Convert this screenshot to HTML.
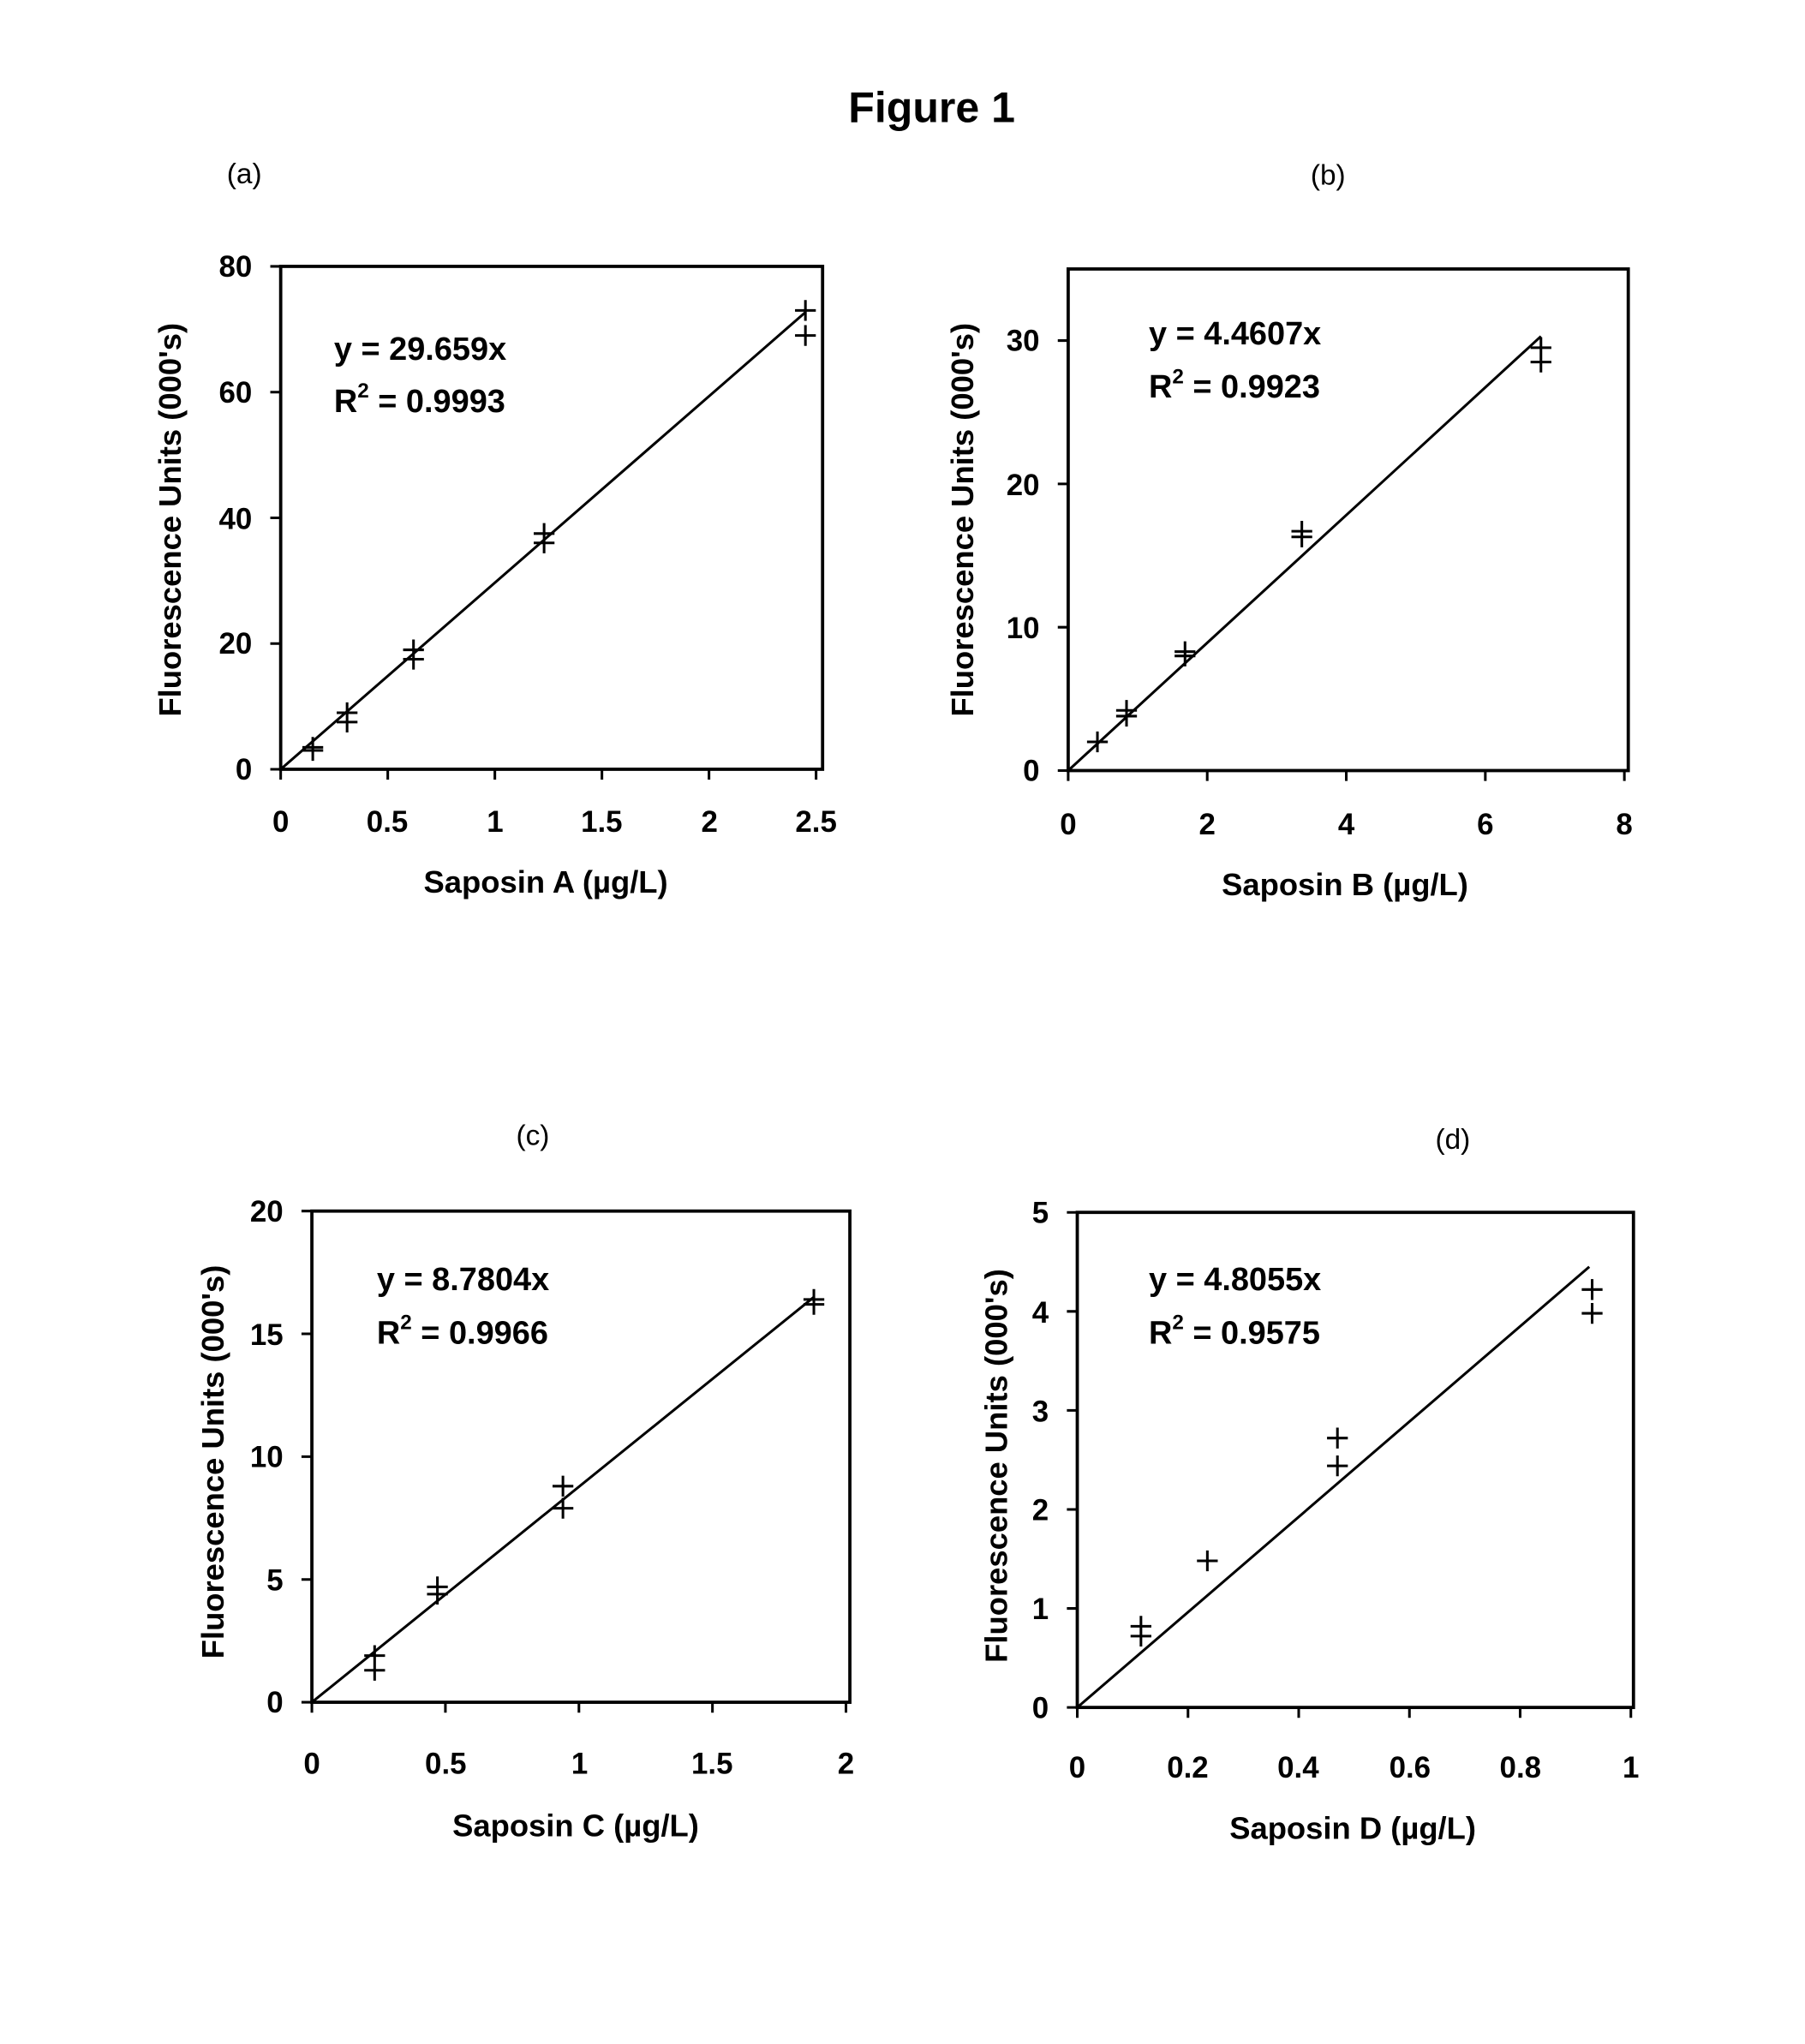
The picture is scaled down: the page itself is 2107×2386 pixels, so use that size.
<!DOCTYPE html>
<html><head><meta charset="utf-8"><style>html,body{margin:0;padding:0;background:#fff}svg{display:block}</style></head>
<body>
<svg width="2107" height="2386" viewBox="0 0 1389 1573" preserveAspectRatio="none" xmlns="http://www.w3.org/2000/svg" font-family="Liberation Sans, Arial, sans-serif">
<rect width="1389" height="1573" fill="#fff"/>
<text x="717" y="94" font-size="33" font-weight="bold" text-anchor="middle">Figure 1</text>
<g font-size="22" text-anchor="middle">
<text x="188" y="141">(a)</text><text x="1022" y="142">(b)</text>
<text x="410" y="881">(c)</text><text x="1118" y="884">(d)</text>
</g>
<g stroke="#000" fill="none" stroke-width="2">
<rect x="216" y="205" width="417" height="387" stroke-width="2.5"/>
<path d="M208 592H216M208 495.25H216M208 398.5H216M208 301.75H216M208 205H216M216 592V600M298.4 592V600M380.8 592V600M463.2 592V600M545.6 592V600M628 592V600"/>
<path d="M216 592L619.8 240.3"/>
<path d="M232.7 575.1h16M240.7 567.1v16M232.7 577.5h16M240.7 569.5v16M259.1 548.5h16M267.1 540.5v16M259.1 555.7h16M267.1 547.7v16M310.2 500.1h16M318.2 492.1v16M310.2 507.3h16M318.2 499.3v16M410.7 410.6h16M418.7 402.6v16M410.7 417.8h16M418.7 409.8v16M611.8 238.9h16M619.8 230.9v16M611.8 258.2h16M619.8 250.2v16"/>
<rect x="822" y="207" width="431" height="386" stroke-width="2.5"/>
<path d="M814 593H822M814 482.7H822M814 372.4H822M814 262.1H822M822 593V601M929 593V601M1036 593V601M1143 593V601M1250 593V601"/>
<path d="M822 593L1185.8 258.8"/>
<path d="M836.5 570.9h16M844.5 562.9v16M858.9 546.7h16M866.9 538.7v16M858.9 551.1h16M866.9 543.1v16M903.9 501.5h16M911.9 493.5v16M903.9 504.8h16M911.9 496.8v16M993.8 408.8h16M1001.8 400.8v16M993.8 413.2h16M1001.8 405.2v16M1177.8 267.6h16M1185.8 259.6v16M1177.8 278.6h16M1185.8 270.6v16"/>
<rect x="240" y="932" width="414" height="378" stroke-width="2.5"/>
<path d="M232 1310H240M232 1215.5H240M232 1121H240M232 1026.5H240M232 932H240M240 1310V1318M342.75 1310V1318M445.5 1310V1318M548.25 1310V1318M651 1310V1318"/>
<path d="M240 1310L626.3 998.2"/>
<path d="M280.3 1274.1h16M288.3 1266.1v16M280.3 1285.4h16M288.3 1277.4v16M328.6 1221.2h16M336.6 1213.2v16M328.6 1226.8h16M336.6 1218.8v16M425.2 1143.7h16M433.2 1135.7v16M425.2 1160.7h16M433.2 1152.7v16M618.3 1000h16M626.3 992v16M618.3 1003.8h16M626.3 995.8v16"/>
<rect x="829" y="933" width="428" height="381" stroke-width="2.5"/>
<path d="M821 1314H829M821 1237.8H829M821 1161.6H829M821 1085.4H829M821 1009.2H829M821 933H829M829 1314V1322M914.2 1314V1322M999.4 1314V1322M1084.6 1314V1322M1169.8 1314V1322M1255 1314V1322"/>
<path d="M829 1314L1223 974.9"/>
<path d="M870 1251.5h16M878 1243.5v16M870 1259.1h16M878 1251.1v16M921.1 1201.2h16M929.1 1193.2v16M1021.2 1106.7h16M1029.2 1098.7v16M1021.2 1128.1h16M1029.2 1120.1v16M1217.2 992.4h16M1225.2 984.4v16M1217.2 1010.7h16M1225.2 1002.7v16"/>
</g>
<g font-weight="bold">
<g font-size="23">
<g text-anchor="end"><text x="194" y="600">0</text><text x="194" y="503">20</text><text x="194" y="407">40</text><text x="194" y="310">60</text><text x="194" y="213">80</text></g>
<g text-anchor="middle"><text x="216" y="640">0</text><text x="298" y="640">0.5</text><text x="381" y="640">1</text><text x="463" y="640">1.5</text><text x="546" y="640">2</text><text x="628" y="640">2.5</text></g>
<g text-anchor="end"><text x="800" y="601">0</text><text x="800" y="491">10</text><text x="800" y="381">20</text><text x="800" y="270">30</text></g>
<g text-anchor="middle"><text x="822" y="642">0</text><text x="929" y="642">2</text><text x="1036" y="642">4</text><text x="1143" y="642">6</text><text x="1250" y="642">8</text></g>
<g text-anchor="end"><text x="218" y="1318">0</text><text x="218" y="1224">5</text><text x="218" y="1129">10</text><text x="218" y="1035">15</text><text x="218" y="940">20</text></g>
<g text-anchor="middle"><text x="240" y="1365">0</text><text x="343" y="1365">0.5</text><text x="446" y="1365">1</text><text x="548" y="1365">1.5</text><text x="651" y="1365">2</text></g>
<g text-anchor="end"><text x="807" y="1322">0</text><text x="807" y="1246">1</text><text x="807" y="1170">2</text><text x="807" y="1094">3</text><text x="807" y="1018">4</text><text x="807" y="941">5</text></g>
<g text-anchor="middle"><text x="829" y="1368">0</text><text x="914" y="1368">0.2</text><text x="999" y="1368">0.4</text><text x="1085" y="1368">0.6</text><text x="1170" y="1368">0.8</text><text x="1255" y="1368">1</text></g>
</g>
<g font-size="25">
<text x="257" y="277">y = 29.659x</text><text x="257" y="317">R<tspan font-size="16" dy="-11">2</tspan><tspan dy="11"> = 0.9993</tspan></text>
<text x="884" y="265">y = 4.4607x</text><text x="884" y="306">R<tspan font-size="16" dy="-11">2</tspan><tspan dy="11"> = 0.9923</tspan></text>
<text x="290" y="993">y = 8.7804x</text><text x="290" y="1034">R<tspan font-size="16" dy="-11">2</tspan><tspan dy="11"> = 0.9966</tspan></text>
<text x="884" y="993">y = 4.8055x</text><text x="884" y="1034">R<tspan font-size="16" dy="-11">2</tspan><tspan dy="11"> = 0.9575</tspan></text>
</g>
<g font-size="24" text-anchor="middle">
<text transform="translate(139,400) rotate(-90)">Fluorescence Units (000's)</text>
<text x="420" y="687">Saposin A (µg/L)</text>
<text transform="translate(749,400) rotate(-90)">Fluorescence Units (000's)</text>
<text x="1035" y="689">Saposin B (µg/L)</text>
<text transform="translate(172,1125) rotate(-90)">Fluorescence Units (000's)</text>
<text x="443" y="1413">Saposin C (µg/L)</text>
<text transform="translate(775,1128) rotate(-90)">Fluorescence Units (000's)</text>
<text x="1041" y="1415">Saposin D (µg/L)</text>
</g>
</g>
</svg>
</body></html>
